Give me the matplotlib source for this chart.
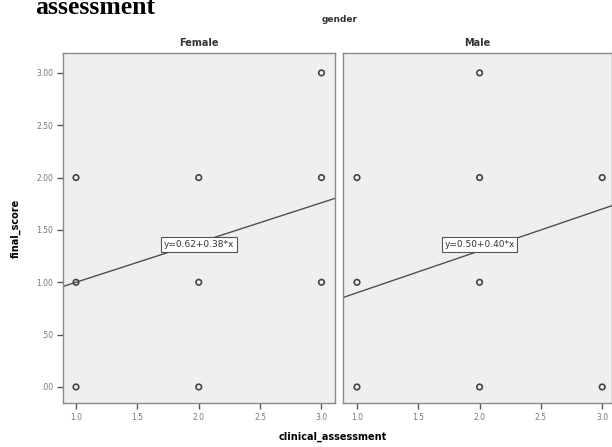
import matplotlib.pyplot as plt

# gender panels
panels = ["Female", "Male"]

female_x = [1.0, 1.0, 1.0, 2.0, 2.0, 2.0, 3.0, 3.0, 3.0]
female_y = [2.0, 1.0, 0.0, 2.0, 1.0, 0.0, 3.0, 2.0, 1.0]
male_x = [1.0, 1.0, 1.0, 2.0, 2.0, 2.0, 2.0, 3.0, 3.0]
male_y = [2.0, 1.0, 0.0, 3.0, 2.0, 1.0, 0.0, 2.0, 0.0]

# fit lines (intercept, slope) as shown in the labels
female_fit = (0.62, 0.38)
male_fit = (0.50, 0.40)
fit_labels = ["y=0.62+0.38*x", "y=0.50+0.40*x"]

x_ticks = [1.0, 1.5, 2.0, 2.5, 3.0]
y_ticks = [0.0, 0.5, 1.0, 1.5, 2.0, 2.5, 3.0]
y_tick_labels = [".00", ".50", "1.00", "1.50", "2.00", "2.50", "3.00"]

W, H = 612, 447
fig = plt.figure(figsize=(W / 100, H / 100), dpi=100)


def px_axes(left, top, right, bottom):
    return fig.add_axes([left / W, 1 - bottom / H, (right - left) / W, (bottom - top) / H])


ax_f = px_axes(63, 53, 335, 403)
ax_m = px_axes(343, 53, 612, 403)

data = [(female_x, female_y, female_fit), (male_x, male_y, male_fit)]
xlims = [(0.894, 3.11), (0.886, 3.08)]

for i, ax in enumerate([ax_f, ax_m]):
    xs, ys, (b0, b1) = data[i]
    ax.set_facecolor("#efefef")
    for s in ax.spines.values():
        s.set_color("#8a8a8a")
        s.set_linewidth(1.0)
    ax.set_xlim(*xlims[i])
    ax.set_ylim(-0.153, 3.19)
    x0, x1 = xlims[i]
    ax.plot([x0, x1], [b0 + b1 * x0, b0 + b1 * x1], color="#505050", lw=1.0, zorder=2)
    ax.scatter(xs, ys, s=16, facecolors="none", edgecolors="#444444", linewidths=1.2, zorder=3)
    ax.text(2.0, 1.36, fit_labels[i], fontsize=6.5, color="#333333", ha="center", va="center",
            bbox=dict(boxstyle="square,pad=0.3", fc="white", ec="#555555", lw=0.8), zorder=4)
    ax.set_xticks(x_ticks)
    ax.set_xticklabels([f"{t:.1f}" for t in x_ticks], fontsize=5.5, color="#777777")
    ax.set_yticks(y_ticks)
    if i == 0:
        ax.set_yticklabels(y_tick_labels, fontsize=5.5, color="#777777")
    else:
        ax.tick_params(axis="y", left=False, labelleft=False)
    ax.tick_params(length=4, width=1, color="#555555", pad=3)
    ax.set_title(panels[i], fontsize=7, fontweight="bold", color="#333333", pad=5)

fig.text(35 / W, 1 - 14 / H, "assessment", fontsize=18.5, fontweight="bold",
         family="Liberation Serif", va="baseline", ha="left")
fig.text(340 / W, 1 - 19 / H, "gender", fontsize=6.5, fontweight="bold",
         color="#333333", ha="center", va="center")
fig.text(333 / W, 1 - 437 / H, "clinical_assessment", fontsize=7, fontweight="bold",
         ha="center", va="center")
fig.text(16 / W, 1 - 228 / H, "final_score", fontsize=7, fontweight="bold",
         rotation=90, ha="center", va="center")

fig.savefig("out.png", dpi=100)
